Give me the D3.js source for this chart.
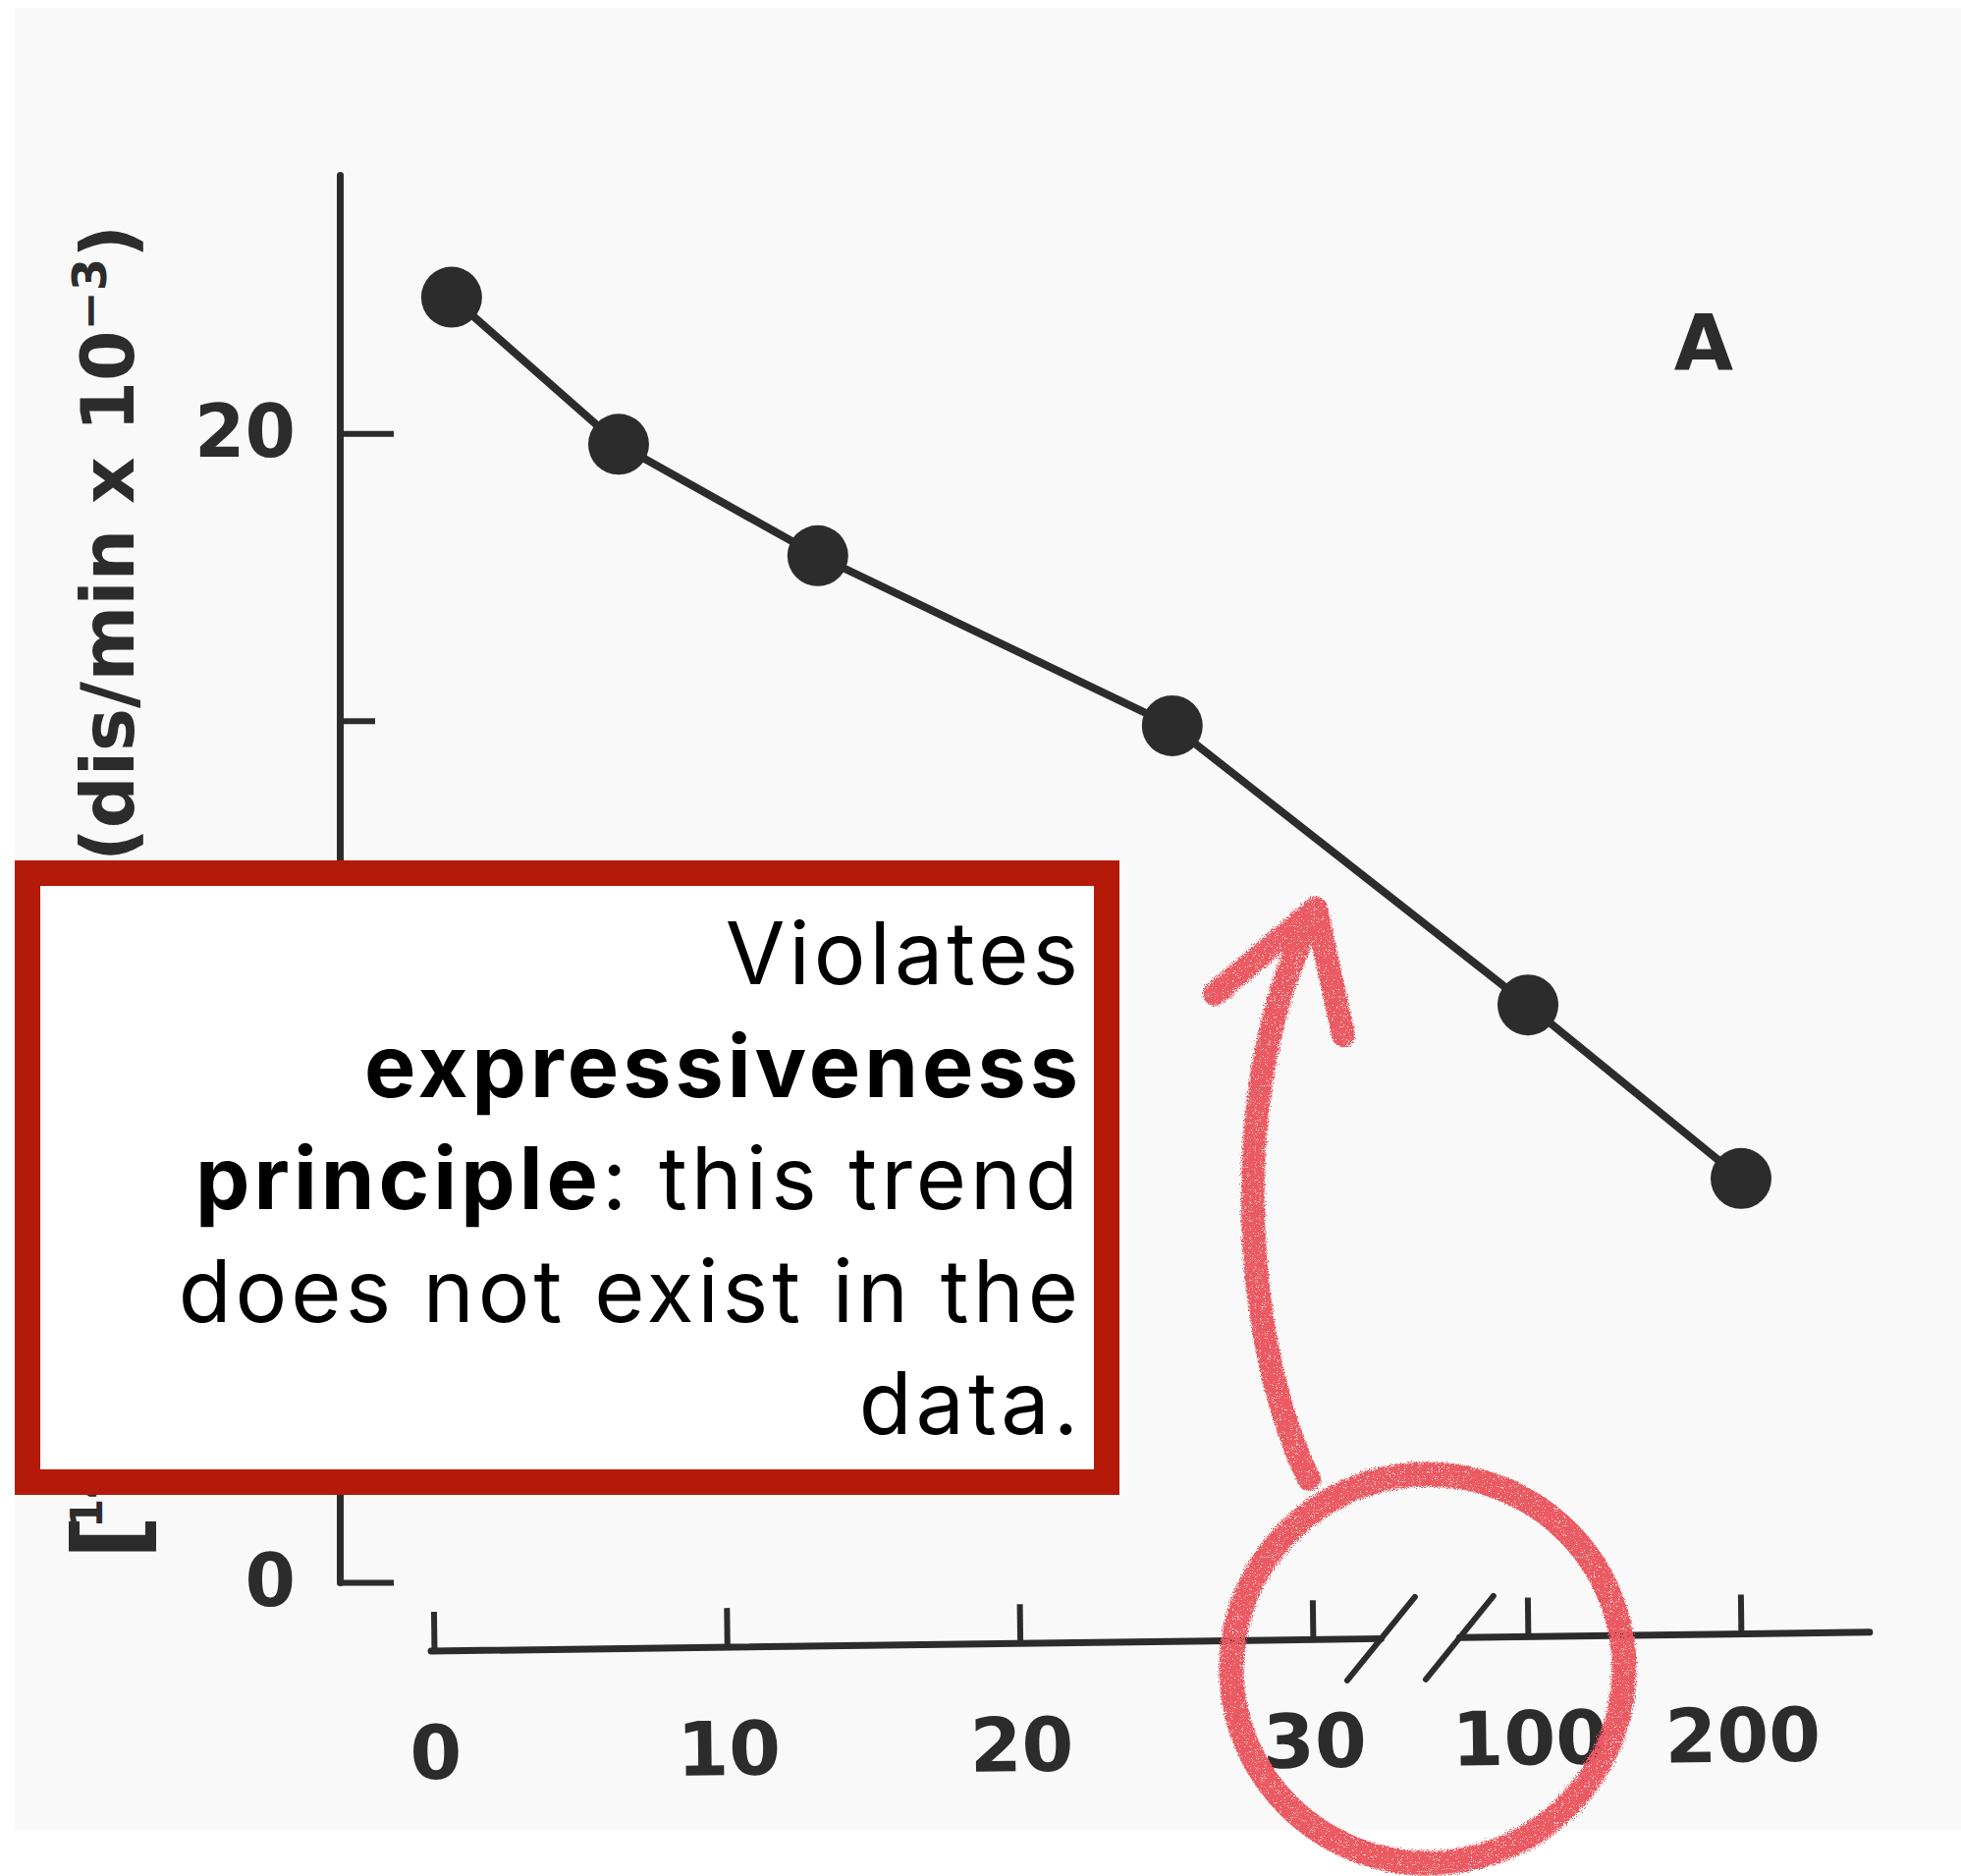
<!DOCTYPE html>
<html><head><meta charset="utf-8">
<script src="https://cdn.jsdelivr.net/npm/d3@7"></script>
<style>body{margin:0;background:#fff}</style>
</head><body>
<svg id="c" width="1997" height="1910"></svg>
<script>
// ---- data ----
const xValues = [0.6, 6.3, 13.1, 25.2, 100, 200];
const yValues = [22.37, 19.81, 17.87, 14.91, 10.05, 7.03];
const xTicks = [0, 10, 20, 30, 100, 200];
const xTickLabels = ["0", "10", "20", "30", "100", "200"];
const yMajorTicks = [0, 10, 20];
const yMinorTicks = [5, 15];
const yAxisMax = 24.5;
const xAxisMax = 260;
const panelLabel = "A";
const yTitleStart = ["[", "14", "C]-Activity"];
const yTitleEnd = ["(dis/min x 10", "\u22123", ")"];
const noteLines = [
  [{t: "Violates", b: false}],
  [{t: "expressiveness", b: true}],
  [{t: "principle", b: true}, {t: ": this trend", b: false}],
  [{t: "does not exist in the", b: false}],
  [{t: "data.", b: false}]
];

const svg = d3.select("#c");
const ink = "#2c2c2c";
const chartFont = "'DejaVu Sans', sans-serif";

// paper
svg.append("rect").attr("x", 0).attr("y", 0).attr("width", 1997).attr("height", 1910).attr("fill", "#ffffff");
svg.append("rect").attr("x", 15).attr("y", 8).attr("width", 1982).attr("height", 1855).attr("fill", "#f9f9f9");

// rough, chalky filter for marker strokes
const defs = svg.append("defs");
const f = defs.append("filter").attr("id", "rough").attr("x", "-10%").attr("y", "-10%").attr("width", "120%").attr("height", "120%");
f.append("feTurbulence").attr("type", "fractalNoise").attr("baseFrequency", "0.9").attr("numOctaves", 2).attr("seed", 3).attr("result", "n");
f.append("feDisplacementMap").attr("in", "SourceGraphic").attr("in2", "n").attr("scale", 8).attr("result", "d");
f.append("feTurbulence").attr("type", "fractalNoise").attr("baseFrequency", "1.6").attr("numOctaves", 1).attr("seed", 7).attr("result", "n2");
f.append("feColorMatrix").attr("in", "n2").attr("type", "matrix")
  .attr("values", "0 0 0 0 0  0 0 0 0 0  0 0 0 0 0  9 0 0 0 -2.4").attr("result", "m");
f.append("feComposite").attr("in", "d").attr("in2", "m").attr("operator", "in");

// scales
const x = d3.scaleLinear().domain([0, 30, 100, 200, xAxisMax]).range([442, 1337, 1556, 1773, 1904]);
const y = d3.scaleLinear().domain([0, yAxisMax]).range([1611, 178]);

// y axis
const yg = svg.append("g").attr("transform", "translate(346,0)");
yg.call(d3.axisLeft(y).tickValues(yMajorTicks).tickSizeInner(-55).tickSizeOuter(0).tickPadding(45).tickFormat(d3.format("d")));
yg.select(".domain").attr("stroke", ink).attr("stroke-width", 7).attr("stroke-linecap", "round");
yg.selectAll(".tick line").attr("stroke", ink).attr("stroke-width", 6);
yg.selectAll(".tick text").attr("font-family", chartFont).attr("font-weight", "bold").attr("font-size", 74).attr("fill", ink);
const yg2 = svg.append("g").attr("transform", "translate(346,0)");
yg2.call(d3.axisLeft(y).tickValues(yMinorTicks).tickSizeInner(-36).tickSizeOuter(0).tickFormat(""));
yg2.select(".domain").remove();
yg2.selectAll(".tick line").attr("stroke", ink).attr("stroke-width", 6);

// x axis (slightly tilted like the scan)
const xg = svg.append("g").attr("transform", "translate(0,1681) rotate(-0.75," + x(0) + ",0)");
xg.call(d3.axisBottom(x).tickValues(xTicks).tickSizeInner(-40).tickSizeOuter(0).tickPadding(76).tickFormat((d, i) => xTickLabels[i]));
xg.select(".domain").remove();
xg.selectAll(".tick line").attr("stroke", ink).attr("stroke-width", 6);
xg.selectAll(".tick text").attr("font-family", chartFont).attr("font-weight", "bold").attr("font-size", 76).attr("fill", ink);
const bm = (x(30) + x(100)) / 2;
xg.append("line").attr("x1", x(0) - 3).attr("x2", bm - 40).attr("y1", 0).attr("y2", 0).attr("stroke", ink).attr("stroke-width", 7).attr("stroke-linecap", "round");
xg.append("line").attr("x1", bm + 40).attr("x2", x(xAxisMax)).attr("y1", 0).attr("y2", 0).attr("stroke", ink).attr("stroke-width", 7).attr("stroke-linecap", "round");
[-40, 40].forEach(o => {
  xg.append("line").attr("x1", bm + o - 35).attr("y1", 42).attr("x2", bm + o + 35).attr("y2", -42)
    .attr("stroke", ink).attr("stroke-width", 6).attr("stroke-linecap", "round");
});

// y title (start part at the bottom, end part at the top; middle hidden by the note box)
const yt1 = svg.append("text").attr("transform", "translate(136,1588) rotate(-90)")
  .attr("text-anchor", "start").attr("font-family", chartFont).attr("font-weight", "bold").attr("font-size", 74).attr("fill", ink);
yt1.append("tspan").attr("font-size", 100).attr("dy", 10).attr("letter-spacing", -14).text(yTitleStart[0]);
yt1.append("tspan").attr("font-size", 44).attr("dy", -42).text(yTitleStart[1]);
yt1.append("tspan").attr("dy", 32).text(yTitleStart[2]);
const yt = svg.append("text").attr("transform", "translate(136,229) rotate(-90)")
  .attr("text-anchor", "end").attr("font-family", chartFont).attr("font-weight", "bold").attr("font-size", 74).attr("fill", ink);
yt.append("tspan").text(yTitleEnd[0]);
yt.append("tspan").attr("font-size", 48).attr("dy", -28).text(yTitleEnd[1]);
yt.append("tspan").attr("dy", 28).text(yTitleEnd[2]);

// panel label
svg.append("text").attr("x", 1735).attr("y", 376).attr("text-anchor", "middle")
  .attr("font-family", chartFont).attr("font-weight", "bold").attr("font-size", 78).attr("fill", ink).text(panelLabel);

// data line + points
const pts = xValues.map((v, i) => [v, yValues[i]]);
svg.append("path").datum(pts).attr("fill", "none").attr("stroke", ink).attr("stroke-width", 8)
  .attr("d", d3.line().x(d => x(d[0])).y(d => y(d[1])));
svg.selectAll("circle.pt").data(pts).join("circle").attr("class", "pt")
  .attr("cx", d => x(d[0])).attr("cy", d => y(d[1])).attr("r", 31).attr("fill", ink);

// annotation box
svg.append("rect").attr("x", 15 + 13).attr("y", 876 + 13).attr("width", 1125 - 26).attr("height", 646 - 26)
  .attr("fill", "#ffffff").attr("stroke", "#b41a0a").attr("stroke-width", 26);
const bx = 1102, by0 = 1002, lh = 114.5;
noteLines.forEach((line, i) => {
  const t = svg.append("text").attr("x", bx).attr("y", by0 + i * lh).attr("text-anchor", "end")
    .attr("font-family", "Inter, 'Noto Sans', sans-serif").attr("font-size", 88).attr("letter-spacing", 4).attr("fill", "#000");
  line.forEach(s => t.append("tspan").attr("font-weight", s.b ? 700 : 400).text(s.t));
});

// hand-drawn marker
const red = "#ea5a62";
const mk = svg.append("g").attr("filter", "url(#rough)").attr("fill", "none").attr("stroke", red).attr("stroke-linecap", "round").attr("stroke-linejoin", "round");
mk.append("ellipse").attr("cx", 1454).attr("cy", 1699).attr("rx", 200).attr("ry", 198).attr("stroke-width", 25);
mk.append("path").attr("d", "M1333,1506 C1258,1350 1253,1080 1340,928").attr("stroke-width", 24);
mk.append("path").attr("d", "M1237,1012 L1340,925 L1368,1054").attr("stroke-width", 24);
</script></body></html>
